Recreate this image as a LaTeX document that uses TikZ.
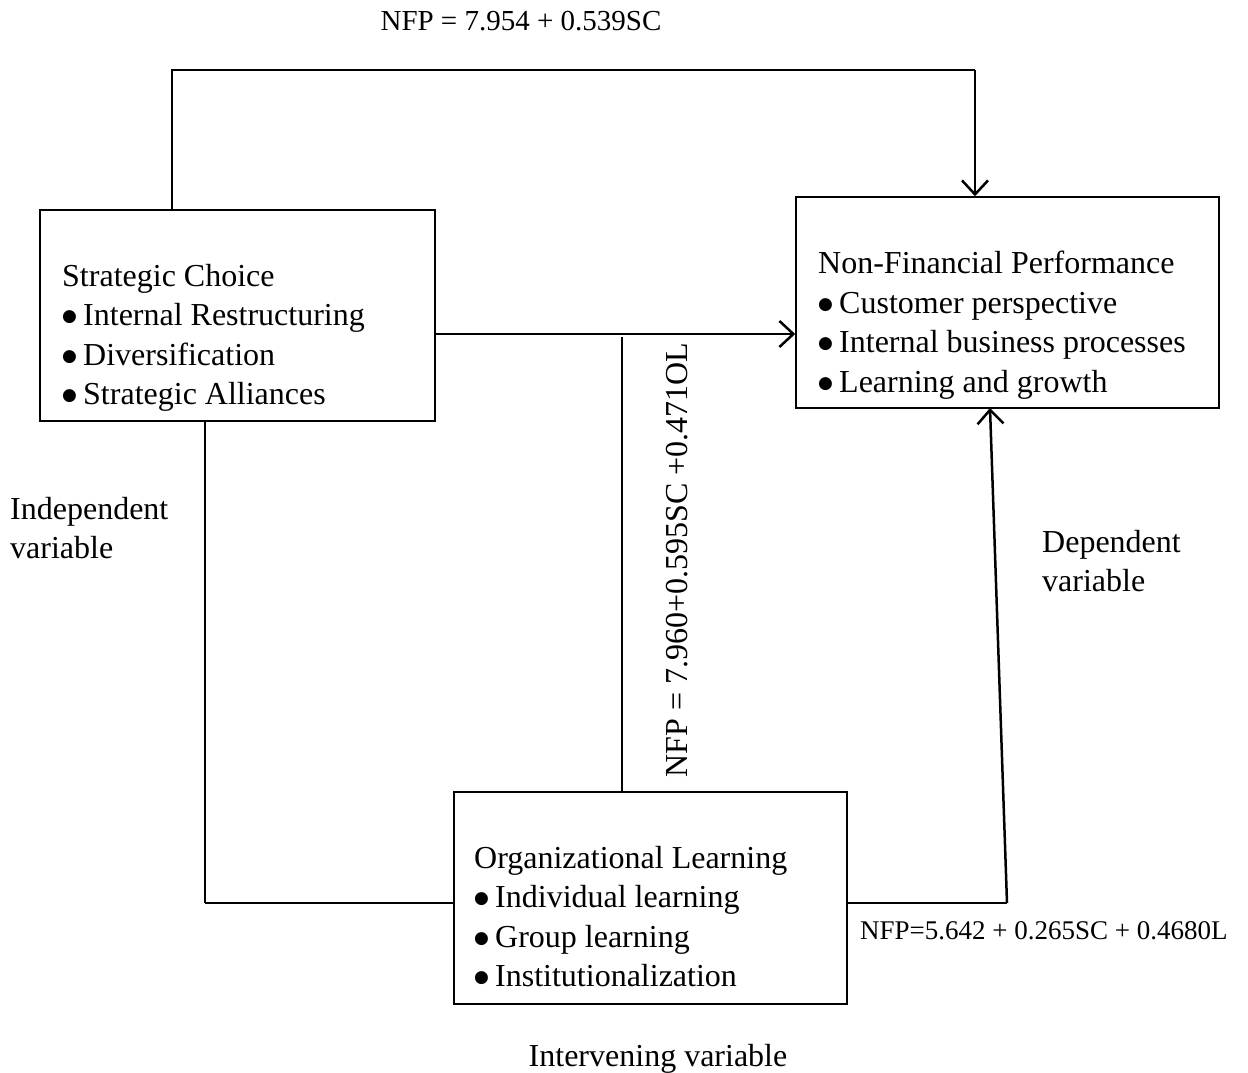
\documentclass[tikz,border=0pt]{standalone}
\usepackage{fontspec}
\setmainfont{Liberation Serif}
\newfontfamily\bulfont{DejaVu Sans}
\usetikzlibrary{arrows.meta}
\newcommand{\bul}{\makebox[21pt][l]{\raisebox{4pt}{\bulfont\fontsize{17}{17}\selectfont ●}}}
\tikzset{
  box/.style={draw, line width=1.5pt, rectangle, inner sep=0pt},
  txt/.style={inner sep=0pt, align=left, font=\fontsize{32}{39.5}\selectfont},
  lbl/.style={inner sep=0pt, font=\fontsize{32}{39.5}\selectfont},
  thin/.style={line width=1.5pt},
  conn/.style={line width=2pt},
  arr/.style={line width=2.5pt, -{Straight Barb[length=14pt,width=26pt,line width=2.5pt]}},
}
\begin{document}
\begin{tikzpicture}[x=1pt,y=-1pt]
\useasboundingbox (0,0) rectangle (1248,1073);
% boxes
\node[box, minimum width=395pt, minimum height=211pt] (sc) at (237.5,315.5) {};
\node[box, minimum width=423pt, minimum height=211pt] (nfp) at (1007.5,302.5) {};
\node[box, minimum width=393pt, minimum height=212pt] (ol) at (650.5,898) {};
% box texts
\node[txt, anchor=north west] (sctext) at (62,264) {Strategic Choice\\\bul Internal Restructuring\\\bul Diversification\\\bul Strategic Alliances};
\node[txt, anchor=north west] (nfptext) at (818,251) {Non-Financial Performance\\\bul Customer perspective\\\bul Internal business processes\\\bul Learning and growth};
\node[txt, anchor=north west] (oltext) at (474,846) {Organizational Learning\\\bul Individual learning\\\bul Group learning\\\bul Institutionalization};
% labels
\node[txt, anchor=north west] (indep) at (10,497) {Independent\\variable};
\node[txt, anchor=north west] (dep) at (1042,530) {Dependent\\variable};
\node[lbl, anchor=base] (interv) at (658,1066) {Intervening variable};
\node[inner sep=0pt, anchor=base, font=\fontsize{29}{34}\selectfont] (eq1) at (521,31) {NFP = 7.954 + 0.539SC};
\node[inner sep=0pt, anchor=base west, font=\fontsize{27}{32}\selectfont] (eq3) at (860,939) {NFP=5.642 + 0.265SC + 0.4680L};
\node[lbl, anchor=base, rotate=90] (eq2) at (687,560) {NFP = 7.960+0.595SC +0.471OL};
% coordinates
\coordinate (t1) at (172,70);
\coordinate (t2) at (975,70);
\coordinate (m) at (0,334);
\coordinate (v1) at (622,337);
\coordinate (l1) at (205,903);
\coordinate (r1) at (1007,903);
\coordinate (r2) at (990,408);
% connectors
\draw[conn] (sc.north -| t1) -- (t1) -- (t2);
\draw[arr] (t2) -- (t2 |- nfp.north);
\draw[arr] (sc.east |- m) -- (nfp.west |- m);
\draw[thin] (ol.north -| v1) -- (v1);
\draw[thin] (sc.south -| l1) -- (l1);
\draw[conn] (l1) -- (ol.west |- l1);
\draw[conn] (ol.east |- r1) -- (r1);
\draw[arr] (r1) -- (r2);
\end{tikzpicture}
\end{document}
